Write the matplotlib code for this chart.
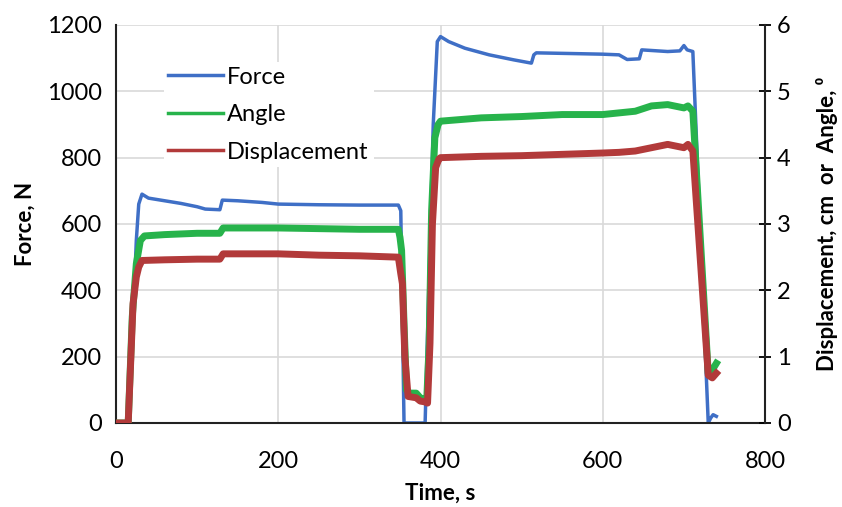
import matplotlib
matplotlib.use("Agg")
import matplotlib.pyplot as plt

plt.rcParams['font.family'] = ['Lato', 'DejaVu Sans']

# Force, N (left axis)
t_force = [0, 15, 20, 25, 28, 32, 40, 60, 80, 100, 110, 128, 131, 150, 180, 200,
           250, 300, 348, 351, 355, 381, 386, 391, 396, 400, 410, 430, 460, 490,
           512, 515, 518, 560, 600, 620, 630, 645, 648, 680, 695, 700, 704, 711,
           730, 733, 736, 740]
force = [0, 0, 250, 550, 660, 690, 678, 670, 662, 652, 645, 643, 672, 670, 665, 660,
         658, 657, 657, 640, 0, 0, 450, 900, 1150, 1165, 1150, 1130, 1110, 1095,
         1085, 1110, 1116, 1114, 1112, 1110, 1096, 1098, 1125, 1120, 1122, 1138, 1125, 1120,
         0, 15, 25, 20]

# Angle, deg (right axis)
t_angle = [0, 15, 20, 25, 30, 35, 60, 100, 128, 132, 200, 250, 300, 348, 350, 352,
           355, 358, 362, 370, 375, 380, 383, 386, 389, 393, 397, 400, 450, 500,
           550, 600, 640, 660, 680, 700, 705, 711, 730, 735, 740]
angle = [0, 0, 1.6, 2.4, 2.75, 2.82, 2.84, 2.86, 2.86, 2.94, 2.94, 2.93, 2.92, 2.92, 2.8, 2.6,
         1.5, 0.5, 0.45, 0.45, 0.38, 0.36, 0.35, 1.2, 3.2, 4.3, 4.5, 4.55, 4.6, 4.62,
         4.65, 4.65, 4.7, 4.78, 4.8, 4.75, 4.78, 4.7, 0.75, 0.8, 0.9]

# Displacement, cm (right axis)
t_disp = [0, 15, 18, 21, 25, 28, 32, 60, 100, 128, 132, 200, 250, 300, 348, 351,
          353, 356, 360, 370, 375, 380, 384, 387, 390, 394, 398, 400, 450, 500,
          550, 600, 620, 640, 660, 680, 700, 705, 711, 730, 735, 740]
disp = [0, 0, 0.9, 1.8, 2.2, 2.35, 2.45, 2.46, 2.47, 2.47, 2.55, 2.55, 2.53, 2.52, 2.5, 2.25,
        2.1, 1.0, 0.4, 0.38, 0.33, 0.32, 0.3, 1.2, 3.0, 3.85, 3.98, 4.0, 4.02, 4.03,
        4.05, 4.07, 4.08, 4.1, 4.15, 4.2, 4.15, 4.2, 4.1, 0.72, 0.68, 0.75]

fig = plt.figure(figsize=(8.42, 5.07), dpi=100)
ax = fig.add_axes([0.1378, 0.1657, 0.7708, 0.7850])
ax2 = ax.twinx()

lf, = ax.plot(t_force, force, color='#3F6FC6', lw=2.5, label='Force')
la, = ax2.plot(t_angle, angle, color='#27B34B', lw=5, label='Angle')
ld, = ax2.plot(t_disp, disp, color='#B23A3A', lw=5, label='Displacement')

ax.set_xlim(0, 800)
ax.set_ylim(0, 1200)
ax2.set_ylim(0, 6)
ax.set_xticks([0, 200, 400, 600, 800])
ax.set_yticks([0, 200, 400, 600, 800, 1000, 1200])
ax2.set_yticks([0, 1, 2, 3, 4, 5, 6])

ax.grid(True, color='#D9D9D9', lw=1.2)
ax.set_axisbelow(True)

for a in (ax, ax2):
    a.spines['top'].set_visible(False)
ax.spines['right'].set_visible(False)
ax.spines['left'].set_color('#222222')
ax.spines['bottom'].set_color('#222222')
ax.spines['left'].set_linewidth(1.5)
ax.spines['bottom'].set_linewidth(1.5)
ax2.spines['left'].set_visible(False)
ax2.spines['bottom'].set_visible(False)
ax2.spines['right'].set_linewidth(1.5)
ax2.spines['right'].set_color('#222222')

ax.tick_params(axis='both', length=0, labelsize=17, pad=20)
ax.tick_params(axis='y', pad=10)
ax2.tick_params(axis='y', direction='inout', length=9, width=1.3, labelsize=17, pad=4)

ax.set_xlabel('Time, s', fontsize=16, fontweight='bold', labelpad=8)
ax.set_ylabel('Force, N', fontsize=16, fontweight='bold', labelpad=8)
ax2.set_ylabel('Displacement, cm  or  Angle, \u2070', fontsize=16, fontweight='bold',
               labelpad=18)

leg = ax2.legend(handles=[lf, la, ld], loc='upper left', bbox_to_anchor=(0.055, 0.937),
                 fontsize=17, frameon=True, facecolor='white', edgecolor='none',
                 framealpha=1, handlelength=2.3, handletextpad=0.2, labelspacing=0.7,
                 borderpad=0.2, fancybox=False)
for h in leg.get_lines():
    h.set_linewidth(2.5)

fig.savefig('out.png', dpi=100)
